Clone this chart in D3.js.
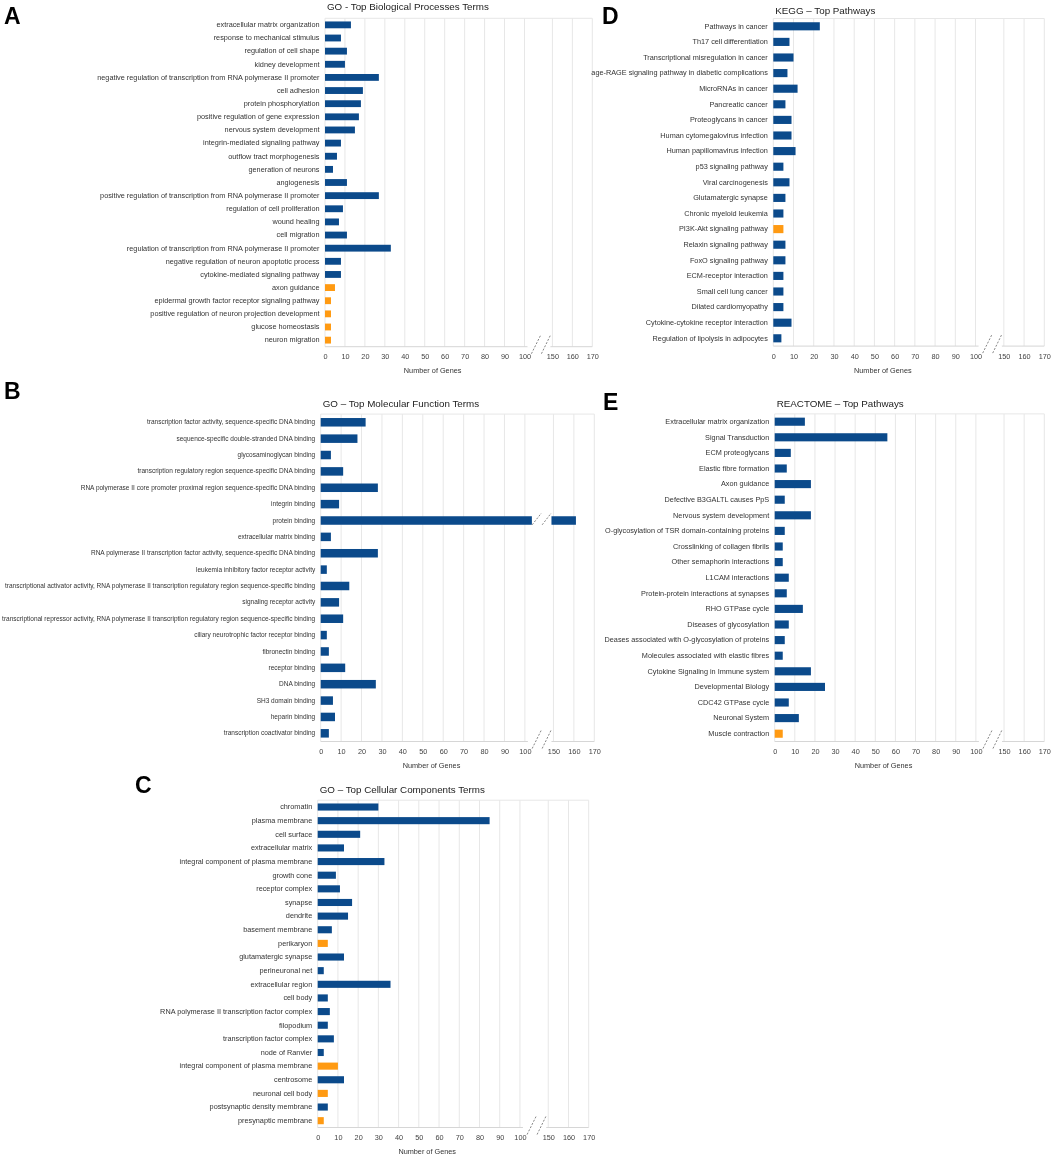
<!DOCTYPE html>
<html><head><meta charset="utf-8">
<title>Enrichment – top terms</title>
<script src="https://cdn.jsdelivr.net/npm/d3@7/dist/d3.min.js"></script>
<style>
  body { margin:0; background:#fff; }
  svg { display:block; font-family: Arial, "Liberation Sans", Helvetica, sans-serif; will-change: transform; -webkit-font-smoothing: antialiased; }
</style>
</head><body>
<svg id="chart" width="1052" height="1156"></svg>
<script>
// ───────────── data ─────────────
const TICKS = [0, 10, 20, 30, 40, 50, 60, 70, 80, 90, 100, 150, 160, 170];

// A: GO biological process
const bpTerms = [
  'extracellular matrix organization', 'response to mechanical stimulus', 'regulation of cell shape',
  'kidney development', 'negative regulation of transcription from RNA polymerase II promoter',
  'cell adhesion', 'protein phosphorylation', 'positive regulation of gene expression',
  'nervous system development', 'integrin-mediated signaling pathway', 'outflow tract morphogenesis',
  'generation of neurons', 'angiogenesis', 'positive regulation of transcription from RNA polymerase II promoter',
  'regulation of cell proliferation', 'wound healing', 'cell migration',
  'regulation of transcription from RNA polymerase II promoter', 'negative regulation of neuron apoptotic process',
  'cytokine-mediated signaling pathway', 'axon guidance', 'epidermal growth factor receptor signaling pathway',
  'positive regulation of neuron projection development', 'glucose homeostasis', 'neuron migration'
];
const bpGenes = [13, 8, 11, 10, 27, 19, 18, 17, 15, 8, 6, 4, 11, 27, 9, 7, 11, 33, 8, 8, 5, 3, 3, 3, 3];
const bpOrange = [20, 21, 22, 23, 24];

// B: GO molecular function
const mfTerms = [
  'transcription factor activity, sequence-specific DNA binding', 'sequence-specific double-stranded DNA binding',
  'glycosaminoglycan binding', 'transcription regulatory region sequence-specific DNA binding',
  'RNA polymerase II core promoter proximal region sequence-specific DNA binding', 'integrin binding',
  'protein binding', 'extracellular matrix binding',
  'RNA polymerase II transcription factor activity, sequence-specific DNA binding',
  'leukemia inhibitory factor receptor activity',
  'transcriptional activator activity, RNA polymerase II transcription regulatory region sequence-specific binding',
  'signaling receptor activity',
  'transcriptional repressor activity, RNA polymerase II transcription regulatory region sequence-specific binding',
  'ciliary neurotrophic factor receptor binding', 'fibronectin binding', 'receptor binding', 'DNA binding',
  'SH3 domain binding', 'heparin binding', 'transcription coactivator binding'
];
const mfGenes = [22, 18, 5, 11, 28, 9, 161, 5, 28, 3, 14, 9, 11, 3, 4, 12, 27, 6, 7, 4];
const mfOrange = [];

// C: GO cellular component
const ccTerms = [
  'chromatin', 'plasma membrane', 'cell surface', 'extracellular matrix', 'integral component of plasma membrane',
  'growth cone', 'receptor complex', 'synapse', 'dendrite', 'basement membrane', 'perikaryon',
  'glutamatergic synapse', 'perineuronal net', 'extracellular region', 'cell body',
  'RNA polymerase II transcription factor complex', 'filopodium', 'transcription factor complex',
  'node of Ranvier', 'integral component of plasma membrane', 'centrosome', 'neuronal cell body',
  'postsynaptic density membrane', 'presynaptic membrane'
];
const ccGenes = [30, 85, 21, 13, 33, 9, 11, 17, 15, 7, 5, 13, 3, 36, 5, 6, 5, 8, 3, 10, 13, 5, 5, 3];
const ccOrange = [10, 19, 21, 23];

// D: KEGG
const keggTerms = [
  'Pathways in cancer', 'Th17 cell differentiation', 'Transcriptional misregulation in cancer',
  'age-RAGE signaling pathway in diabetic complications', 'MicroRNAs in cancer', 'Pancreatic cancer',
  'Proteoglycans in cancer', 'Human cytomegalovirus infection', 'Human papillomavirus infection',
  'p53 signaling pathway', 'Viral carcinogenesis', 'Glutamatergic synapse', 'Chronic myeloid leukemia',
  'PI3K-Akt signaling pathway', 'Relaxin signaling pathway', 'FoxO signaling pathway',
  'ECM-receptor interaction', 'Small cell lung cancer', 'Dilated cardiomyopathy',
  'Cytokine-cytokine receptor interaction', 'Regulation of lipolysis in adipocytes'
];
const keggGenes = [23, 8, 10, 7, 12, 6, 9, 9, 11, 5, 8, 6, 5, 5, 6, 6, 5, 5, 5, 9, 4];
const keggOrange = [13];

// E: REACTOME
const reactomeTerms = [
  'Extracellular matrix organization', 'Signal Transduction', 'ECM proteoglycans', 'Elastic fibre formation',
  'Axon guidance', 'Defective B3GALTL causes PpS', 'Nervous system development',
  'O-glycosylation of TSR domain-containing proteins', 'Crosslinking of collagen fibrils',
  'Other semaphorin interactions', 'L1CAM interactions', 'Protein-protein interactions at synapses',
  'RHO GTPase cycle', 'Diseases of glycosylation', 'Deases associated with O-glycosylation of proteins',
  'Molecules associated with elastic fibres', 'Cytokine Signaling in Immune system', 'Developmental Biology',
  'CDC42 GTPase cycle', 'Neuronal System', 'Muscle contraction'
];
const reactomeGenes = [15, 56, 8, 6, 18, 5, 18, 5, 4, 4, 7, 6, 14, 7, 5, 4, 18, 25, 7, 12, 4];
const reactomeOrange = [20];

// ───────────── layout ─────────────
const BLUE = '#0b4a8b';
const ORANGE = '#ff9a12';
const BREAK = 1.4;   // width of the 100→150 axis break, in tick steps

const panels = [
  { letter: 'A', lx: 4, ly: 24, title: 'GO - Top Biological Processes Terms', terms: bpTerms, genes: bpGenes, orange: bpOrange,
    x0: 325, x1: 592.3, top: 18.3, bottom: 346.7, titleY: 9.5, labelSize: 7.3 },
  { letter: 'B', lx: 4, ly: 399, title: 'GO – Top Molecular Function Terms', terms: mfTerms, genes: mfGenes, orange: mfOrange,
    x0: 320.7, x1: 594.3, top: 414.1, bottom: 741.5, titleY: 407, labelSize: 6.5 },
  { letter: 'C', lx: 135, ly: 793, title: 'GO – Top Cellular Components Terms', terms: ccTerms, genes: ccGenes, orange: ccOrange,
    x0: 317.7, x1: 588.7, top: 800.2, bottom: 1127.5, titleY: 793, labelSize: 7.3 },
  { letter: 'D', lx: 602, ly: 24, title: 'KEGG – Top Pathways', terms: keggTerms, genes: keggGenes, orange: keggOrange,
    x0: 773.3, x1: 1044.3, top: 18.5, bottom: 346.1, titleY: 13.5, labelSize: 7.3 },
  { letter: 'E', lx: 603, ly: 410, title: 'REACTOME – Top Pathways', terms: reactomeTerms, genes: reactomeGenes, orange: reactomeOrange,
    x0: 774.7, x1: 1044.3, top: 413.9, bottom: 741.5, titleY: 407, labelSize: 7.3 },
];

const svg = d3.select('#chart');
svg.append('rect').attr('width', 1052).attr('height', 1156).attr('fill', '#fff');

// two dashed "/" marks, centred on cx
function breakMarks(g, cx, yLow, yHigh) {
  [[-9.5, -0.3], [0.5, 9.5]].forEach(([a, b]) => {
    g.append('line')
      .attr('x1', cx + a).attr('y1', yLow).attr('x2', cx + b).attr('y2', yHigh)
      .attr('stroke', '#777').attr('stroke-width', 0.9).attr('stroke-dasharray', '2,1.6');
  });
}

function drawPanel(p) {
  const g = svg.append('g');
  const s = (p.x1 - p.x0) / (12 + BREAK);
  const x = d3.scaleLinear()
    .domain([0, 100, 150, 170])
    .range([p.x0, p.x0 + 10 * s, p.x0 + (10 + BREAK) * s, p.x1]);
  const y = d3.scaleBand()
    .domain(d3.range(p.terms.length))
    .range([p.top, p.bottom])
    .paddingInner(0.48).paddingOuter(0.24);
  const gapMid = (x(100) + x(150)) / 2 + 2.5;

  // grid
  g.append('g').selectAll('line').data(TICKS).join('line')
    .attr('x1', d => x(d)).attr('x2', d => x(d))
    .attr('y1', p.top).attr('y2', p.bottom)
    .attr('stroke', '#e7e7e7').attr('stroke-width', 1);
  g.append('line')
    .attr('x1', x(0)).attr('x2', x(170)).attr('y1', p.top).attr('y2', p.top)
    .attr('stroke', '#e7e7e7');
  g.append('line')
    .attr('x1', x(0)).attr('x2', x(170)).attr('y1', p.bottom).attr('y2', p.bottom)
    .attr('stroke', '#d6d6d6');

  // bars (values above 100 continue after the break)
  const bars = g.append('g').selectAll('g')
    .data(p.genes.map((v, i) => ({ v, i })))
    .join('g')
    .attr('fill', d => p.orange.includes(d.i) ? ORANGE : BLUE);
  bars.each(function (d) {
    const sel = d3.select(this);
    const segs = d.v > 150
      ? [[x(0), x(100) + 7], [x(150) - 2, x(d.v)]]
      : [[x(0), x(d.v)]];
    sel.selectAll('rect').data(segs).join('rect')
      .attr('x', sg => sg[0]).attr('width', sg => sg[1] - sg[0])
      .attr('y', y(d.i)).attr('height', y.bandwidth());
    if (d.v > 150) {
      const yc = y(d.i) + y.bandwidth() / 2;
      breakMarks(g, gapMid, yc + 4.3, yc - 7.4);
    }
  });

  // axis break on the x axis
  g.append('rect')
    .attr('x', x(100) + 3).attr('width', x(150) - x(100) - 5)
    .attr('y', p.bottom - 1).attr('height', 2).attr('fill', '#fff');
  breakMarks(g, gapMid, p.bottom + 7, p.bottom - 11.5);

  // category labels
  const yAxis = g.append('g')
    .attr('transform', `translate(${p.x0},0)`)
    .call(d3.axisLeft(y).tickSize(0).tickPadding(5.5).tickFormat(i => p.terms[i]));
  yAxis.select('.domain').remove();
  yAxis.selectAll('text')
    .attr('font-size', p.labelSize).attr('fill', '#333').attr('font-family', null);

  // value ticks
  const xAxis = g.append('g')
    .attr('transform', `translate(0,${p.bottom})`)
    .call(d3.axisBottom(x).tickValues(TICKS).tickSize(0).tickPadding(7.3).tickFormat(d3.format('d')));
  xAxis.select('.domain').remove();
  xAxis.selectAll('text')
    .attr('font-size', 7.3).attr('fill', '#444').attr('font-family', null);

  g.append('text')
    .attr('x', (p.x0 + p.x1) / 2 - 26).attr('y', p.bottom + 26.5)
    .attr('text-anchor', 'middle').attr('font-size', 7.3).attr('fill', '#333')
    .text('Number of Genes');

  g.append('text')
    .attr('x', p.x0 + 2).attr('y', p.titleY)
    .attr('font-size', 9.8).attr('fill', '#222')
    .text(p.title);

  g.append('text')
    .attr('x', p.lx).attr('y', p.ly)
    .attr('font-size', 23).attr('font-weight', 'bold').attr('fill', '#000')
    .text(p.letter);
}

panels.forEach(drawPanel);
</script>
</body></html>
